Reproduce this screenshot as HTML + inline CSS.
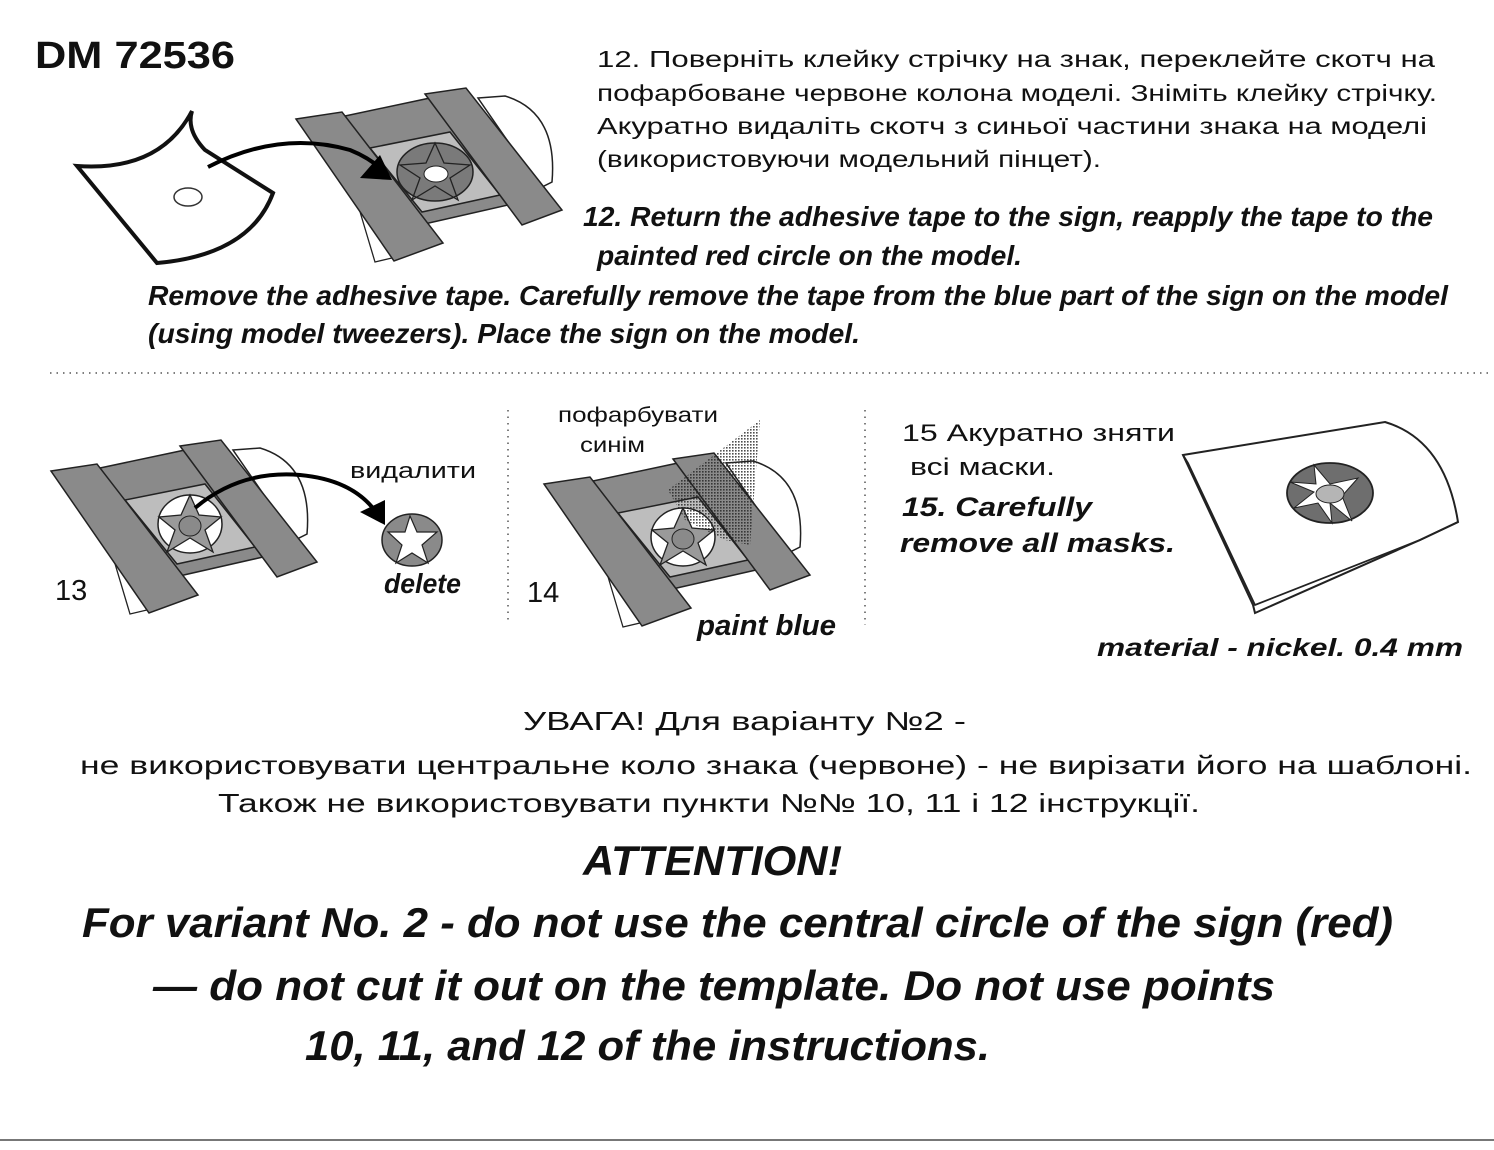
<!DOCTYPE html>
<html><head><meta charset="utf-8"><style>
html,body{margin:0;padding:0;background:#fff;}
svg{display:block;}
text{font-family:"Liberation Sans","DejaVu Sans",sans-serif;fill:#111;}
.bi{font-weight:bold;font-style:italic;}
</style></head><body>
<svg width="1494" height="1150" viewBox="0 0 1494 1150" xmlns="http://www.w3.org/2000/svg">
<defs>
<g id="panel">
  <path d="M478,98 L505,96 Q558,112 552,182 L540,188 Z" fill="#fff" stroke="#222" stroke-width="1.5"/>
  <path d="M355,195 L375,262 L392,258 Z" fill="#fff" stroke="#222" stroke-width="1.3"/>
  <polygon points="345,116 430,98 508,205 420,225" fill="#8a8a8a" stroke="#222" stroke-width="1.5"/>
  <polygon points="370,148 450,132 500,195 422,212" fill="#bdbdbd" stroke="#222" stroke-width="1.5"/>
  <polygon points="296,119 342,112 443,243 394,261" fill="#8a8a8a" stroke="#222" stroke-width="1.5"/>
  <polygon points="425,94 466,88 562,210 522,225" fill="#8a8a8a" stroke="#222" stroke-width="1.5"/>
</g>
<g id="star1">
  <ellipse cx="435" cy="172" rx="38" ry="29" fill="#7a7a7a" stroke="#222" stroke-width="1.5"/>
  <path d="M435,143 L444,163 L470,165 L450,178 L458,200 L435,186 L412,200 L420,178 L400,165 L426,163 Z" fill="none" stroke="#222" stroke-width="1.3"/>
</g>
</defs>

<text x="35" y="68" font-size="38" font-weight="bold" textLength="200" lengthAdjust="spacingAndGlyphs">DM 72536</text>

<!-- step 12 illustration -->
<path d="M77,166 Q160,172 192,111 Q186,130 205,150 L273,193 Q250,255 157,263 Z" fill="#fff" stroke="#111" stroke-width="4" stroke-linejoin="miter"/>
<ellipse cx="188" cy="197" rx="14" ry="9" fill="#fff" stroke="#333" stroke-width="1.5"/>
<use href="#panel"/>
<use href="#star1"/>
<ellipse cx="436" cy="174" rx="12" ry="8" fill="#fff" stroke="#222" stroke-width="1"/>
<path d="M208,167 Q280,130 350,150 Q370,158 385,172" fill="none" stroke="#000" stroke-width="4"/>
<polygon points="360,178 380,155 392,180" fill="#000"/>

<g font-size="23">
<text x="597" y="67" textLength="838" lengthAdjust="spacingAndGlyphs">12. Поверніть клейку стрічку на знак, переклейте  скотч на</text>
<text x="597" y="101" textLength="840" lengthAdjust="spacingAndGlyphs">пофарбоване червоне колона моделі. Зніміть клейку стрічку.</text>
<text x="597" y="134" textLength="830" lengthAdjust="spacingAndGlyphs">Акуратно видаліть скотч з синьої частини знака на моделі</text>
<text x="597" y="167" textLength="504" lengthAdjust="spacingAndGlyphs">(використовуючи модельний пінцет).</text>
</g>
<g font-size="28" class="bi">
<text class="bi" x="583" y="226" textLength="850" lengthAdjust="spacingAndGlyphs">12. Return the adhesive tape to the sign, reapply the tape to the</text>
<text class="bi" x="597" y="265" textLength="425" lengthAdjust="spacingAndGlyphs">painted red circle on the model.</text>
<text class="bi" x="148" y="305" textLength="1300" lengthAdjust="spacingAndGlyphs">Remove the adhesive tape. Carefully remove the tape from the blue part of the sign on the model</text>
<text class="bi" x="148" y="343" textLength="712" lengthAdjust="spacingAndGlyphs">(using model tweezers). Place the sign on the model.</text>
</g>

<line x1="50" y1="373" x2="1492" y2="373" stroke="#555" stroke-width="1.5" stroke-dasharray="1.5,5"/>
<line x1="508" y1="410" x2="508" y2="620" stroke="#555" stroke-width="1.5" stroke-dasharray="1.5,5"/>
<line x1="865" y1="410" x2="865" y2="625" stroke="#555" stroke-width="1.5" stroke-dasharray="1.5,5"/>

<!-- step 13 -->
<g transform="translate(-245,352)">
  <use href="#panel"/>
  <ellipse cx="435" cy="172" rx="32" ry="29" fill="#fff" stroke="#222" stroke-width="1.5"/>
  <path d="M435,143 L444,163 L466,165 L450,178 L458,200 L435,186 L412,200 L420,178 L404,165 L426,163 Z" fill="#9a9a9a" stroke="#222" stroke-width="1.3"/>
  <ellipse cx="435" cy="174" rx="11" ry="10" fill="#8a8a8a" stroke="#222" stroke-width="1"/>
</g>
<path d="M195,508 Q240,470 300,475 Q355,480 378,515" fill="none" stroke="#000" stroke-width="4"/>
<polygon points="360,512 385,500 385,525" fill="#000"/>
<ellipse cx="412" cy="540" rx="30" ry="26" fill="#8a8a8a" stroke="#222" stroke-width="1.5"/>
<path d="M410,516 L417,532 L437,532 L422,545 L428,563 L412,553 L396,563 L402,545 L388,532 L405,532 Z" fill="#fff" stroke="#222" stroke-width="1.2"/>
<text x="350" y="478" font-size="22" textLength="126" lengthAdjust="spacingAndGlyphs">видалити</text>
<text x="55" y="600" font-size="29">13</text>
<text class="bi" x="384" y="593" font-size="28" textLength="77" lengthAdjust="spacingAndGlyphs">delete</text>

<!-- step 14 -->
<g transform="translate(248,365)">
  <use href="#panel"/>
  <ellipse cx="435" cy="172" rx="32" ry="29" fill="#fff" stroke="#222" stroke-width="1.5"/>
  <path d="M435,143 L444,163 L466,165 L450,178 L458,200 L435,186 L412,200 L420,178 L404,165 L426,163 Z" fill="#9a9a9a" stroke="#222" stroke-width="1.3"/>
  <ellipse cx="435" cy="174" rx="11" ry="10" fill="#8a8a8a" stroke="#222" stroke-width="1"/>
</g>
<defs><pattern id="dots" width="3" height="3" patternUnits="userSpaceOnUse"><rect width="1.6" height="1.6" fill="#222"/></pattern></defs>
<polygon points="760,420 668,490 685,520 725,540 750,545" fill="url(#dots)" opacity="0.8"/>
<text x="558" y="422" font-size="21" textLength="160" lengthAdjust="spacingAndGlyphs">пофарбувати</text>
<text x="580" y="452" font-size="21" textLength="65" lengthAdjust="spacingAndGlyphs">синім</text>
<text x="527" y="602" font-size="29">14</text>
<text class="bi" x="697" y="635" font-size="29" textLength="139" lengthAdjust="spacingAndGlyphs">paint blue</text>

<!-- step 15 -->
<text x="902" y="441" font-size="24" textLength="273" lengthAdjust="spacingAndGlyphs">15 Акуратно зняти</text>
<text x="910" y="475" font-size="24" textLength="145" lengthAdjust="spacingAndGlyphs">всі маски.</text>
<text class="bi" x="902" y="516" font-size="27" textLength="190" lengthAdjust="spacingAndGlyphs">15. Carefully</text>
<text class="bi" x="900" y="552" font-size="27" textLength="275" lengthAdjust="spacingAndGlyphs">remove all masks.</text>
<path d="M1183,455 L1385,422 Q1445,440 1458,522 L1420,540 L1255,613 L1253,605 Z" fill="#fff" stroke="#222" stroke-width="2"/>
<path d="M1183,455 L1188,463 L1255,605 L1420,540 L1458,522" fill="none" stroke="#222" stroke-width="1.8"/>
<ellipse cx="1330" cy="493" rx="43" ry="30" fill="#6e6e6e" stroke="#222" stroke-width="1.8"/>
<path d="M1314,465 L1330,484 L1358,478 L1342,496 L1352,521 L1330,503 L1332,523 L1318,503 L1294,508 L1314,492 L1290,482 L1316,484 Z" fill="#fff" stroke="#222" stroke-width="1"/>
<ellipse cx="1330" cy="494" rx="14" ry="9" fill="#b5b5b5" stroke="#222" stroke-width="1"/>
<text class="bi" x="1097" y="656" font-size="25" textLength="366" lengthAdjust="spacingAndGlyphs" font-family="DejaVu Sans">material - nickel.  0.4 mm</text>

<!-- attention -->
<g font-size="26">
<text x="523" y="730" textLength="443" lengthAdjust="spacingAndGlyphs">УВАГА! Для варіанту №2 -</text>
<text x="80" y="774" textLength="1392" lengthAdjust="spacingAndGlyphs">не використовувати центральне коло знака (червоне) - не вирізати його на шаблоні.</text>
<text x="218" y="812" textLength="982" lengthAdjust="spacingAndGlyphs">Також не використовувати пункти №№ 10, 11 і 12 інструкції.</text>
</g>
<g font-size="42">
<text class="bi" x="583" y="875" textLength="259" lengthAdjust="spacingAndGlyphs">ATTENTION!</text>
<text class="bi" x="82" y="937" textLength="1311" lengthAdjust="spacingAndGlyphs">For variant No. 2 - do not use the central circle of the sign (red)</text>
<text class="bi" x="153" y="1000" textLength="1122" lengthAdjust="spacingAndGlyphs">— do not cut it out on the template. Do not use points</text>
<text class="bi" x="305" y="1060" textLength="685" lengthAdjust="spacingAndGlyphs">10, 11, and 12 of the instructions.</text>
</g>
<line x1="0" y1="1140" x2="1494" y2="1140" stroke="#777" stroke-width="2"/>
</svg>
</body></html>
